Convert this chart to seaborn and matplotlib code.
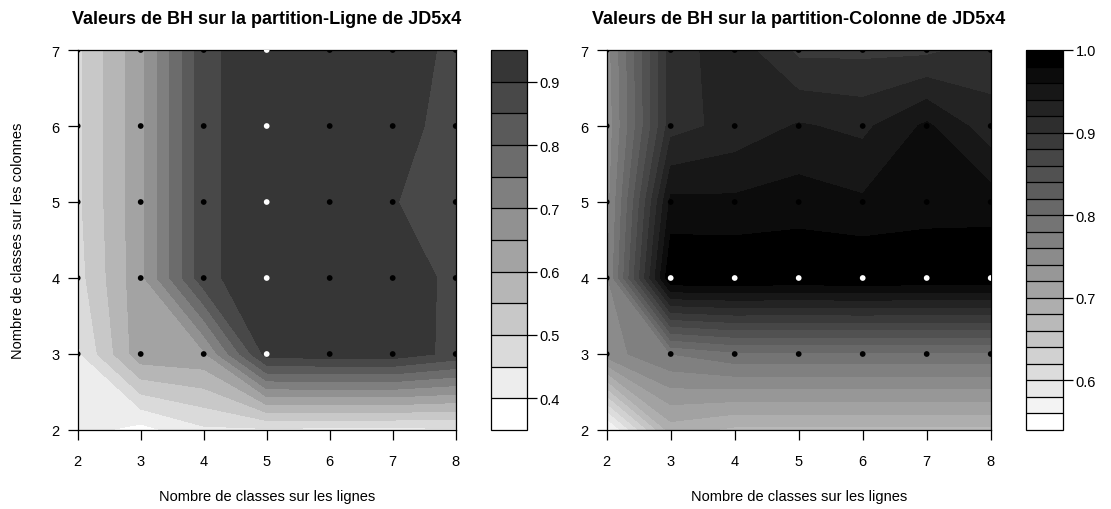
import numpy as np
import pandas as pd
import matplotlib
matplotlib.use("Agg")
import matplotlib.pyplot as plt
import seaborn as sns

# grid: number of row classes (x) and column classes (y)
classes_lignes = [2, 3, 4, 5, 6, 7, 8]
classes_colonnes = [2, 3, 4, 5, 6, 7]

# BH values on the row partition, one list per y (2 -> 7)
bh_ligne = [
    [0.42, 0.38, 0.44, 0.44, 0.435, 0.435, 0.44],
    [0.44, 0.633, 0.64, 0.92, 0.93, 0.93, 0.885],
    [0.48, 0.635, 0.885, 0.937, 0.94, 0.923, 0.89],
    [0.49, 0.635, 0.885, 0.937, 0.94, 0.901, 0.89],
    [0.49, 0.635, 0.885, 0.937, 0.94, 0.91, 0.89],
    [0.49, 0.635, 0.885, 0.937, 0.94, 0.923, 0.89],
]

# BH values on the column partition
bh_colonne = [
    [0.55, 0.69, 0.675, 0.675, 0.675, 0.675, 0.675],
    [0.75, 0.78, 0.795, 0.795, 0.795, 0.795, 0.795],
    [0.755, 1.0, 1.0, 0.998, 1.0, 0.998, 0.998],
    [0.75, 0.965, 0.964, 0.97, 0.963, 0.97, 0.971],
    [0.745, 0.912, 0.927, 0.942, 0.935, 0.964, 0.927],
    [0.75, 0.91, 0.932, 0.895, 0.895, 0.895, 0.91],
]

# points drawn on the grid, white ones = true partition of JD5x4
points_x = [2, 3, 4, 5, 6, 7, 8]
points_y = [3, 4, 5, 6, 7]
vrai_ligne = 5
vrai_colonne = 4

ticks_ligne = [0.4, 0.5, 0.6, 0.7, 0.8, 0.9]
ticks_colonne = [0.6, 0.7, 0.8, 0.9, 1.0]

W, H = 1111, 510


def px(x0, y_top, w, h):
    return [x0 / W, (H - y_top - h) / H, w / W, h / H]


def points_frame(panel):
    rows = []
    for y in points_y:
        for x in points_x:
            if panel == "ligne":
                vrai = x == vrai_ligne
            else:
                vrai = (y == vrai_colonne) and x >= 3
            rows.append({"x": x, "y": y, "vrai": vrai})
    return pd.DataFrame(rows)


def panel(fig, ax_box, cb_box, z, levels, colors, cticks, title, panel_name, ylabel):
    ax = fig.add_axes(px(*ax_box))
    cax = fig.add_axes(px(*cb_box))

    cs = ax.contourf(classes_lignes, classes_colonnes, np.array(z), levels=levels, colors=colors)
    sns.scatterplot(data=points_frame(panel_name), x="x", y="y", hue="vrai",
                    palette={False: "black", True: "white"}, s=17, linewidth=0,
                    legend=False, ax=ax, zorder=3)

    ax.set_xlim(2, 8)
    ax.set_ylim(2, 7)
    ax.set_xticks(classes_lignes)
    ax.set_yticks(classes_colonnes)
    ax.set_xlabel("")
    ax.set_ylabel("")
    for s in ax.spines.values():
        s.set_visible(True)
        s.set_color("black")
        s.set_linewidth(0.9)
    ax.tick_params(axis="x", direction="out", length=7, width=0.9, labelsize=10.5, pad=10, bottom=True)
    ax.tick_params(axis="y", direction="out", length=7, width=0.9, labelsize=10.5, pad=6, left=True)

    cb = fig.colorbar(cs, cax=cax, ticks=cticks, drawedges=True)
    cb.outline.set_linewidth(0.9)
    cb.outline.set_edgecolor("black")
    cb.dividers.set_color("black")
    cb.dividers.set_linewidth(0.9)
    cax.tick_params(direction="out", length=7, width=0.9, labelsize=10.5, pad=2, right=True)
    cax.set_yticklabels([f"{t:.1f}" for t in cticks])

    x0, _, w, _ = ax_box
    cx = (x0 + w / 2) / W
    fig.text(cx, 1 - 24 / H, title, ha="center", va="baseline", fontsize=13, fontweight="bold")
    fig.text(cx, 1 - 497 / H, "Nombre de classes sur les lignes", ha="center", va="center", fontsize=10.5)
    if ylabel:
        fig.text(18 / W, 1 - 241 / H, ylabel, ha="center", va="center", rotation=90, fontsize=10.5)
    return ax


def main():
    sns.set_theme(style="white", rc={"text.color": "black", "xtick.color": "black",
                                     "ytick.color": "black", "axes.labelcolor": "black"})
    plt.rcParams["font.family"] = ["Liberation Sans", "DejaVu Sans"]

    fig = plt.figure(figsize=(W / 100, H / 100), dpi=100)

    levels_ligne = np.round(np.linspace(0.35, 0.95, 13), 2)
    gris_ligne = [str(g) for g in np.linspace(1.0, 0.21, 12)]
    panel(fig, (77.7, 51, 378, 380), (491, 51, 36, 380), bh_ligne, levels_ligne, gris_ligne,
          ticks_ligne, "Valeurs de BH sur la partition-Ligne de JD5x4", "ligne",
          "Nombre de classes sur les colonnes")

    levels_colonne = np.round(np.linspace(0.54, 1.0, 24), 2)
    gris_colonne = [str(g) for g in np.linspace(1.0, 0.0, 23)]
    panel(fig, (606.7, 51, 384, 380), (1026, 51, 37, 380), bh_colonne, levels_colonne, gris_colonne,
          ticks_colonne, "Valeurs de BH sur la partition-Colonne de JD5x4", "colonne", None)

    fig.savefig("out.png", dpi=100)


if __name__ == "__main__":
    main()
